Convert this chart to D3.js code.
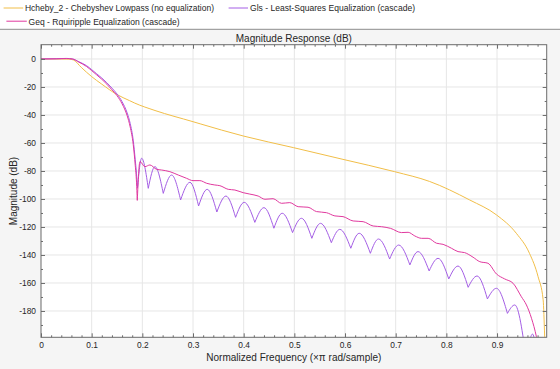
<!DOCTYPE html>
<meta charset="utf-8">
<script src="https://d3js.org/d3.v7.min.js"></script>
<style>
  body { margin: 0; background: #f5f5f5; }
  text { font-family: "Liberation Sans", Arial, Helvetica, sans-serif; fill: #262626; }
</style>
<div id="chart"></div>
<script>
// series labels and colours
var seriesNames = ["Hcheby_2 - Chebyshev Lowpass (no equalization)",
                   "Gls - Least-Squares Equalization (cascade)",
                   "Geq - Rquiripple Equalization (cascade)"];
var seriesColors = ["#f1be48", "#a45ee5", "#e0399e"];

// tick values
var xMajor = [0, 0.1, 0.2, 0.3, 0.4, 0.5, 0.6, 0.7, 0.8, 0.9];
var yMajor = [-180, -160, -140, -120, -100, -80, -60, -40, -20, 0];

// Hcheby_2
var chebyF  = [0, 0.02, 0.04, 0.055, 0.064, 0.08, 0.1, 0.12, 0.149, 0.175, 0.185, 0.225, 0.3, 0.314,
               0.399, 0.498, 0.596, 0.698, 0.767, 0.846, 0.899, 0.938, 0.964, 0.981, 0.991, 0.994, 0.997];
var chebyDb = [0, 0, 0, -0.1, -0.7, -6.2, -12.6, -18, -25.2, -29.8, -31.5, -36.8, -44.8, -46.3,
               -55, -63.3, -71.7, -80.5, -87.5, -100.7, -111.4, -124.5, -138.8, -155.5, -172, -198, -230];

// Gls - least squares
var glsF  = [0, 0.03, 0.05, 0.062, 0.075, 0.09, 0.1, 0.11, 0.12, 0.13, 0.14, 0.15, 0.16, 0.17, 0.176, 0.182,
             0.186, 0.1885, 0.1905,
             0.1986, 0.2117, 0.2249, 0.2413, 0.2578, 0.2755, 0.2939, 0.311, 0.328, 0.347, 0.365, 0.384,
             0.401, 0.422, 0.44, 0.4596, 0.476, 0.4964, 0.514, 0.5345, 0.5516, 0.573, 0.5897, 0.6114,
             0.628, 0.65, 0.666, 0.688, 0.706, 0.728, 0.744, 0.766, 0.7836, 0.8047, 0.823, 0.843,
             0.8606, 0.881, 0.8988, 0.9205, 0.935, 0.958, 0.97, 0.982];
var glsDb = [0, 0.2, 0.4, 0, -2, -4.8, -7.6, -10.6, -13.6, -17, -20.8, -25, -30.5, -38.5, -46, -58,
             -72, -82, -92,
             -70.9, -92.4, -76.9, -96, -82.9, -100.7, -88.1, -105, -93.1, -109.3, -97.9, -113.1,
             -102.4, -116.7, -106.2, -120.9, -110.2, -124, -113.8, -128.1, -117.4, -131.2, -121.7, -135.2,
             -124.5, -138.8, -128.6, -142.9, -132.9, -147.1, -137.6, -151.4, -142.4, -157.1, -147.9, -163.1,
             -155, -171.4, -163.8, -181.7, -175.7, -215, -196.5, -225];

// Geq - equiripple
var geqF  = [0, 0.03, 0.05, 0.062, 0.075, 0.09, 0.1, 0.11, 0.12, 0.13, 0.14, 0.15, 0.16, 0.17, 0.176, 0.182,
             0.186, 0.1885, 0.19,
             0.1953, 0.205, 0.215, 0.228, 0.238, 0.2544, 0.271, 0.287, 0.3, 0.3136, 0.327, 0.343, 0.353,
             0.3695, 0.3826, 0.399, 0.412, 0.4286, 0.442, 0.458, 0.4747, 0.491, 0.5075, 0.527, 0.5437,
             0.5635, 0.58, 0.596, 0.616, 0.6357, 0.6555, 0.672, 0.69, 0.7114, 0.7245, 0.7377, 0.751,
             0.764, 0.7805, 0.7935, 0.81, 0.823, 0.836, 0.8527, 0.866, 0.882, 0.899, 0.915, 0.9316,
             0.948, 0.958, 0.968, 0.9777, 0.986];
var geqDb = [0, 0.1, 0.3, 0, -2.3, -5.4, -8.3, -11.4, -14.5, -18, -22, -26.2, -32, -40.5, -48.5, -61,
             -76, -88, -101,
             -73.3, -76.9, -75.7, -78.8, -79.3, -80.5, -82.9, -85.2, -86.9, -86.9, -88.8, -90, -90.5,
             -93.1, -93.6, -95.5, -96.5, -97.9, -100.2, -99.8, -103.1, -102.6, -105.5, -105.9, -109,
             -109.8, -112.1, -112.6, -115.7, -116.2, -119.3, -119.8, -121, -124, -123.8, -126.4, -128.1,
             -128.1, -131.6, -132.4, -135.2, -137.6, -138.3, -141.6, -144.8, -145.9, -153.6, -157.1, -160.2,
             -169.8, -175.7, -185.2, -198.4, -215];

var width = 560, height = 369;
var plot = {left: 41, right: 546.7, top: 44.7, bottom: 337.3};

var svg = d3.select("#chart")
  .append("svg")
    .attr("width", width)
    .attr("height", height);

// backgrounds
svg.append("rect").attr("width", width).attr("height", height).attr("fill", "#f5f5f5");
svg.append("rect").attr("width", width).attr("height", 29.3).attr("fill", "#ffffff");
svg.append("line")
  .attr("x1", 0).attr("x2", width).attr("y1", 29.3).attr("y2", 29.3)
  .attr("stroke", "#8c8c8c").attr("stroke-width", 1);
svg.append("rect")
  .attr("x", plot.left).attr("y", plot.top)
  .attr("width", plot.right - plot.left).attr("height", plot.bottom - plot.top)
  .attr("fill", "#ffffff");

var x = d3.scaleLinear().domain([0, 0.998]).range([plot.left, plot.right]);
var y = d3.scaleLinear().domain([-198.8, 10.2]).range([plot.bottom, plot.top]);

// grid
svg.append("g").selectAll("line")
  .data(xMajor.filter(function(d) { return d > 0; }))
  .enter().append("line")
    .attr("x1", function(d) { return x(d); }).attr("x2", function(d) { return x(d); })
    .attr("y1", plot.top).attr("y2", plot.bottom)
    .attr("stroke", "#e6e6e6");
svg.append("g").selectAll("line")
  .data(yMajor)
  .enter().append("line")
    .attr("y1", function(d) { return y(d); }).attr("y2", function(d) { return y(d); })
    .attr("x1", plot.left).attr("x2", plot.right)
    .attr("stroke", "#e6e6e6");

// curves
svg.append("clipPath").attr("id", "clip")
  .append("rect")
    .attr("x", plot.left).attr("y", plot.top)
    .attr("width", plot.right - plot.left).attr("height", plot.bottom - plot.top);

// split a series at its deep nulls so the nulls stay sharp
function pieces(fs, dbs) {
  var pts = fs.map(function(f, i) { return [f, dbs[i]]; });
  var out = [], start = 0;
  for (var i = 1; i < pts.length - 1; i++) {
    if (pts[i][1] < pts[i-1][1] - 4 && pts[i][1] < pts[i+1][1] - 4) {
      out.push(pts.slice(start, i + 1));
      start = i;
    }
  }
  out.push(pts.slice(start));
  return out;
}

var line = d3.line()
  .x(function(d) { return x(d[0]); })
  .y(function(d) { return y(d[1]); })
  .curve(d3.curveMonotoneX);

var series = [[chebyF, chebyDb], [glsF, glsDb], [geqF, geqDb]];
var curves = svg.append("g").attr("clip-path", "url(#clip)");
series.forEach(function(s, k) {
  curves.selectAll(null)
    .data(pieces(s[0], s[1]))
    .enter().append("path")
      .attr("d", line)
      .attr("fill", "none")
      .attr("stroke", seriesColors[k])
      .attr("stroke-width", 1);
});

// axes (ticks point inward)
var xMinor = d3.range(0, 0.999, 0.02).filter(function(d) { return Math.abs(d * 10 - Math.round(d * 10)) > 1e-6; });
var yMinor = d3.range(-190, 10, 10).filter(function(d) { return d % 20 !== 0; });
var fmtX = function(d) { return d === 0 ? "0" : d.toFixed(1); };

function tickAxis(axis, values, size, fmt) {
  return axis.tickValues(values).tickSizeInner(-size).tickSizeOuter(0).tickPadding(5)
    .tickFormat(fmt || "");
}

var gx = svg.append("g").attr("transform", "translate(0," + plot.bottom + ")");
gx.call(tickAxis(d3.axisBottom(x), xMajor, 4, fmtX));
gx.append("g").call(tickAxis(d3.axisBottom(x), xMinor, 2));
var gxt = svg.append("g").attr("transform", "translate(0," + plot.top + ")");
gxt.call(tickAxis(d3.axisTop(x), xMajor, 4));
gxt.append("g").call(tickAxis(d3.axisTop(x), xMinor, 2));

var gy = svg.append("g").attr("transform", "translate(" + plot.left + ",0)");
gy.call(tickAxis(d3.axisLeft(y), yMajor, 4, function(d) { return String(d); }));
gy.append("g").call(tickAxis(d3.axisLeft(y), yMinor, 2));
var gyr = svg.append("g").attr("transform", "translate(" + plot.right + ",0)");
gyr.call(tickAxis(d3.axisRight(y), yMajor, 4));
gyr.append("g").call(tickAxis(d3.axisRight(y), yMinor, 2));

svg.selectAll(".domain").remove();
svg.selectAll(".tick line").attr("stroke", "#6b6b6b");
svg.selectAll(".tick text").style("font-size", "8.4px").attr("fill", "#262626");

// frame
svg.append("rect")
  .attr("x", plot.left).attr("y", plot.top)
  .attr("width", plot.right - plot.left).attr("height", plot.bottom - plot.top)
  .attr("fill", "none").attr("stroke", "#6b6b6b").attr("stroke-width", 1);

// labels
svg.append("text")
  .attr("x", (plot.left + plot.right) / 2).attr("y", 42)
  .style("text-anchor", "middle").style("font-size", "10px")
  .text("Magnitude Response (dB)");
svg.append("text")
  .attr("x", (plot.left + plot.right) / 2).attr("y", 361)
  .style("text-anchor", "middle").style("font-size", "10px")
  .text("Normalized Frequency (\u00d7\u03c0 rad/sample)");
svg.append("text")
  .attr("transform", "translate(17," + ((plot.top + plot.bottom) / 2) + ")rotate(-90)")
  .style("text-anchor", "middle").style("font-size", "10px")
  .text("Magnitude (dB)");

// legend
var legendItems = [
  {x1: 3.6, x2: 23.2, y: 8, tx: 25, w: 189},
  {x1: 228.6, x2: 248, y: 8, tx: 250, w: 165},
  {x1: 6.4, x2: 26.8, y: 21.2, tx: 28.6, w: 151}
];
var legend = svg.append("g");
legendItems.forEach(function(it, k) {
  legend.append("line")
    .attr("x1", it.x1).attr("x2", it.x2).attr("y1", it.y).attr("y2", it.y)
    .attr("stroke", seriesColors[k]).attr("stroke-width", 1);
  legend.append("text")
    .attr("x", it.tx).attr("y", it.y + 3.3)
    .attr("textLength", it.w)
    .attr("lengthAdjust", "spacingAndGlyphs")
    .style("font-size", "9.3px")
    .text(seriesNames[k]);
});
</script>
